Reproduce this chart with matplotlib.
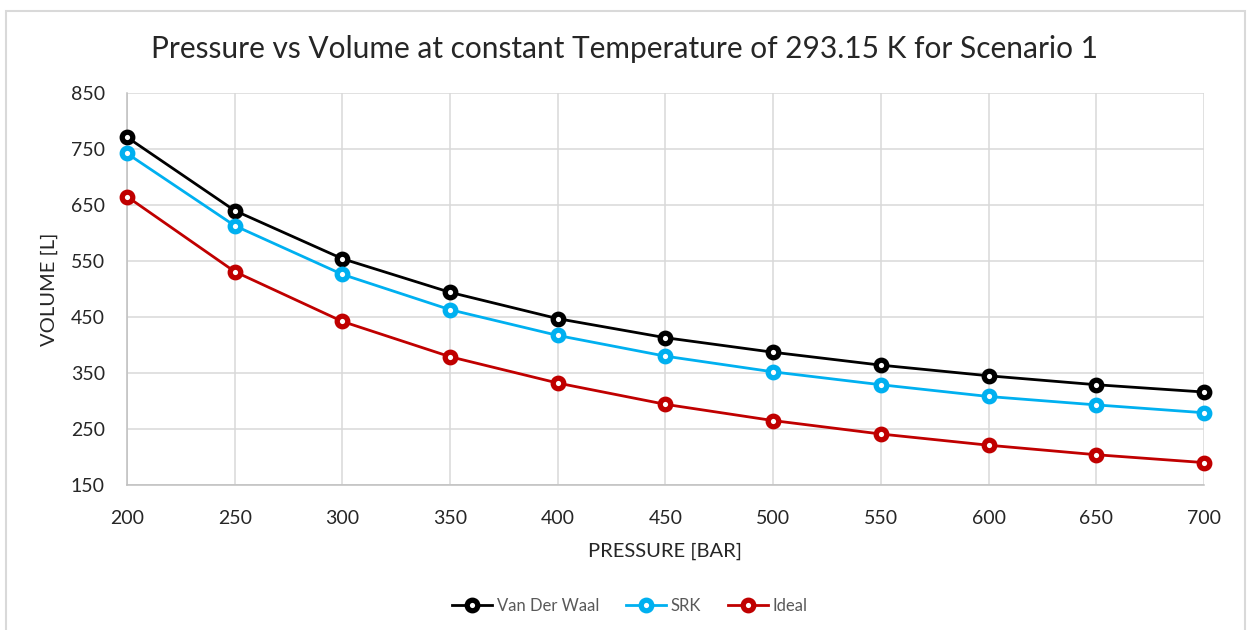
import matplotlib
matplotlib.use("Agg")
import matplotlib.pyplot as plt
from matplotlib.patches import Rectangle

# pressure [bar] and volume [L] for each equation of state
pressure = [200, 250, 300, 350, 400, 450, 500, 550, 600, 650, 700]
vdw = [771, 640, 554, 494, 447, 413, 387, 364, 345, 329, 316]
srk = [742, 613, 526, 463, 417, 380, 352, 329, 308, 293, 279]
ideal = [665, 531, 442, 379, 332, 294, 265, 241, 221, 204, 190]

series = [("Van Der Waal", vdw, "#000000"),
          ("SRK", srk, "#00B0F0"),
          ("Ideal", ideal, "#C00000")]

x_ticks = list(range(200, 701, 50))
y_ticks = list(range(150, 851, 100))

plt.rcParams["font.family"] = ["Lato", "DejaVu Sans"]

fig = plt.figure(figsize=(12.49, 6.30), dpi=100)
fig.patches.append(Rectangle((0.005, -0.01), 0.992, 0.993, transform=fig.transFigure,
                             fill=False, edgecolor="#d9d9d9", linewidth=1.5))

ax = fig.add_axes([0.1017, 0.2302, 0.8622, 0.6222])
for name, vals, color in series:
    ax.plot(pressure, vals, color=color, linewidth=2.0, marker="o",
            markersize=7.6, markeredgewidth=3.8, markerfacecolor="white",
            markeredgecolor=color, label=name, zorder=3, clip_on=False)

ax.set_xlim(200, 700)
ax.set_ylim(150, 850)
ax.set_xticks(x_ticks)
ax.set_yticks(y_ticks)
ax.tick_params(length=0, labelsize=14, labelcolor="#262626")
ax.tick_params(axis="x", pad=18)
ax.tick_params(axis="y", pad=16)
ax.grid(True, color="#d9d9d9", linewidth=1.1, zorder=0)
ax.set_axisbelow(True)
for side in ("top", "right"):
    ax.spines[side].set_visible(False)
for side in ("left", "bottom"):
    ax.spines[side].set_color("#bfbfbf")
    ax.spines[side].set_linewidth(1.1)

ax.set_xlabel("PRESSURE [BAR]", fontsize=14.5, color="#262626", labelpad=11)
ax.set_ylabel("VOLUME [L]", fontsize=14.5, color="#262626", labelpad=9)

fig.text(0.5, 0.922, "Pressure vs Volume at constant Temperature of 293.15 K for Scenario 1",
         ha="center", va="center", fontsize=21.5, color="#262626")

ax.legend(loc="center", bbox_to_anchor=(0.467, -0.309), ncol=3, frameon=False,
          fontsize=12, labelcolor="#595959", handlelength=2.4, columnspacing=1.6,
          handletextpad=0.3, markerscale=1.0)

fig.savefig("out.png", dpi=100)
